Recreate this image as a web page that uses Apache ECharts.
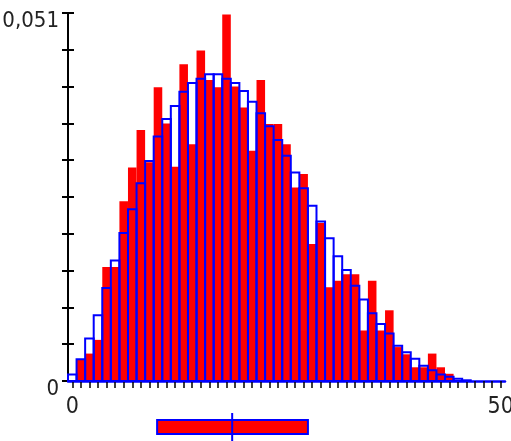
<!DOCTYPE html>
<html>
<head>
<meta charset="utf-8">
<script src="https://cdn.jsdelivr.net/npm/echarts@6/dist/echarts.min.js"></script>
<style>
html,body{margin:0;padding:0;background:#fff;}
#chart{width:511px;height:441px;}
</style>
</head>
<body>
<div id="chart"></div>
<script>
// Categories: integer values 0..50
var categories = [];
for (var i = 0; i <= 50; i++) categories.push(String(i));

// Observed relative frequencies (red bars)
var observed = [0, 0.0030, 0.0038, 0.0057, 0.0158, 0.0158, 0.0249, 0.0296, 0.0348, 0.0303,
  0.0407, 0.0357, 0.0297, 0.0439, 0.0328, 0.0458, 0.0417, 0.0407, 0.0508, 0.0408,
  0.0379, 0.0319, 0.0417, 0.0356, 0.0356, 0.0328, 0.0268, 0.0287, 0.0190, 0.0219,
  0.0130, 0.0139, 0.0148, 0.0148, 0.0070, 0.0139, 0.0070, 0.0098, 0.0047, 0.0037,
  0.0019, 0.0019, 0.0038, 0.0019, 0.0010, 0, 0, 0, 0, 0, 0];

// Theoretical probabilities (blue outlined bars)
var theoretical = [0.0009, 0.0030, 0.0059, 0.0091, 0.0129, 0.0167, 0.0205, 0.0238, 0.0274, 0.0305,
  0.0339, 0.0363, 0.0381, 0.0401, 0.0413, 0.0419, 0.0425, 0.0425, 0.0419, 0.0413,
  0.0402, 0.0387, 0.0371, 0.0353, 0.0334, 0.0312, 0.0289, 0.0267, 0.0243, 0.0221,
  0.0198, 0.0173, 0.0154, 0.0132, 0.0113, 0.0094, 0.0079, 0.0066, 0.0049, 0.0040,
  0.0031, 0.0021, 0.0015, 0.0009, 0.0006, 0.0003, 0.0001, 0, 0, 0, 0];

// Summary bar below: [low, high, centre]
var summaryBox = [[9.9, 27.5, 18.66]];

// Tick labels
var xLabels = ['0', '50'];
var yLabelValues = [0, 0.051];
var yLabelTexts = ['0', '0,051'];
var yMax = 0.051;
var yInterval = 0.0051;

function pairs(arr) {
  return arr.map(function (v, k) { return [k, v]; });
}

function histRenderer(style) {
  return function (params, api) {
    var idx = api.value(0), val = api.value(1);
    if (!(val > 0)) return null;
    var top = api.coord([idx, val]);
    var base = api.coord([idx, 0]);
    var w = api.size([1, 0])[0];
    return {
      type: 'rect',
      shape: {x: base[0] - w / 2, y: top[1], width: w, height: base[1] - top[1]},
      style: style
    };
  };
}

var chart = echarts.init(document.getElementById('chart'), null, {renderer: 'canvas'});
var FONT = "'DejaVu Sans Condensed', 'Liberation Sans', sans-serif";

var option = {
  animation: false,
  backgroundColor: '#ffffff',
  grid: [
    {left: 68, top: 13, width: 437, height: 368, containLabel: false, outerBoundsMode: 'none'},
    {left: 68, top: 413, width: 437, height: 28, containLabel: false, outerBoundsMode: 'none'}
  ],
  xAxis: [
    {
      type: 'category', gridIndex: 0, data: categories, boundaryGap: true,
      axisLine: {lineStyle: {color: '#0000ff', width: 2.5}},
      axisTick: {show: true, alignWithLabel: true, interval: 0, length: 7,
        lineStyle: {color: '#000', width: 1.5}},
      axisLabel: {
        interval: function (idx, val) { return xLabels.indexOf(val) >= 0; },
        margin: 15, fontFamily: FONT, fontSize: 23, lineHeight: 23, color: '#222'
      },
      splitLine: {show: false}
    },
    {type: 'value', gridIndex: 1, min: -0.5, max: 50.5, show: false}
  ],
  yAxis: [
    {
      type: 'value', gridIndex: 0, min: 0, max: yMax, interval: yInterval, position: 'left',
      axisLine: {show: true, lineStyle: {color: '#000', width: 2}},
      axisTick: {show: true, length: 6, lineStyle: {color: '#000', width: 2}},
      axisLabel: {
        margin: 9, fontFamily: FONT, fontSize: 22, lineHeight: 16, verticalAlign: 'top', color: '#222',
        formatter: function (v) {
          for (var k = 0; k < yLabelValues.length; k++) {
            if (Math.abs(v - yLabelValues[k]) < 1e-7) return yLabelTexts[k];
          }
          return '';
        }
      },
      splitLine: {show: false}
    },
    {type: 'value', gridIndex: 1, min: 0, max: 1, show: false},
    {
      type: 'value', gridIndex: 0, min: 0, max: yMax, interval: yInterval, position: 'left', offset: 0,
      axisLine: {show: false},
      axisTick: {show: true, inside: true, length: 6, lineStyle: {color: '#000', width: 2}},
      axisLabel: {show: false},
      splitLine: {show: false}
    }
  ],
  series: [
    {
      type: 'custom', xAxisIndex: 0, yAxisIndex: 0, data: pairs(observed),
      renderItem: histRenderer({fill: '#ff0000'}),
      z: 2
    },
    {
      type: 'custom', xAxisIndex: 0, yAxisIndex: 0, data: pairs(theoretical),
      renderItem: histRenderer({fill: 'none', stroke: '#0000ff', lineWidth: 2}),
      z: 3
    },
    {
      type: 'custom', xAxisIndex: 1, yAxisIndex: 1, data: summaryBox, clip: false,
      renderItem: function (params, api) {
        var lo = api.value(0), hi = api.value(1), mid = api.value(2);
        var p0 = api.coord([lo, 0.75]);
        var p1 = api.coord([hi, 0.25]);
        var m0 = api.coord([mid, 1]);
        var m1 = api.coord([mid, 0]);
        return {
          type: 'group',
          children: [
            {type: 'rect', shape: {x: p0[0], y: p0[1], width: p1[0] - p0[0], height: p1[1] - p0[1]},
              style: {fill: '#ff0000', stroke: '#0000ff', lineWidth: 2}},
            {type: 'line', shape: {x1: m0[0], y1: m0[1], x2: m1[0], y2: m1[1]},
              style: {stroke: '#0000ff', lineWidth: 2}}
          ]
        };
      }
    }
  ]
};
chart.setOption(option);
</script>
</body>
</html>
